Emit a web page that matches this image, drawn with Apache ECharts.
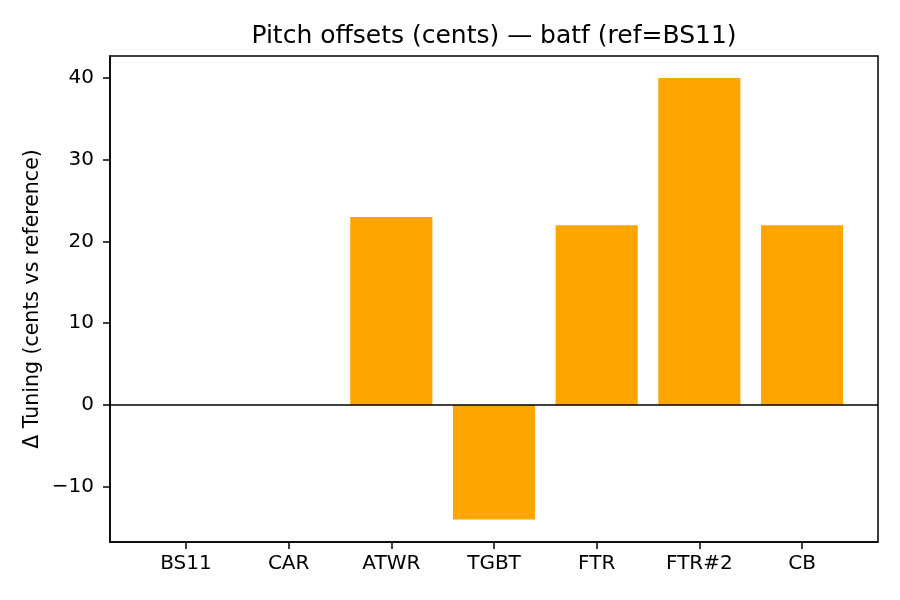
<!DOCTYPE html>
<html>
<head>
<meta charset="utf-8">
<script src="https://cdn.jsdelivr.net/npm/echarts@6/dist/echarts.min.js"></script>
<style>
  html, body { margin: 0; padding: 0; background: #fff; }
  #main { width: 900px; height: 600px; }
</style>
</head>
<body>
<div id="main"></div>
<script>
// data
const categories = ['BS11', 'CAR', 'ATWR', 'TGBT', 'FTR', 'FTR#2', 'CB'];
const offsets = [0, 0, 23, -14, 22, 40, 22];
const yTicks = [-10, 0, 10, 20, 30, 40];
const xTicks = [0, 1, 2, 3, 4, 5, 6];

const font = 'DejaVu Sans';
const dom = document.getElementById('main');
const myChart = echarts.init(dom);

myChart.setOption({
  animation: false,
  backgroundColor: '#fff',
  title: {
    text: 'Pitch offsets (cents) — batf (ref=BS11)',
    left: 489,
    top: 19,
    textAlign: 'center',
    textStyle: { fontFamily: font, fontSize: 25, fontWeight: 'normal', color: '#000' }
  },
  grid: {
    left: 110, right: 22, top: 56, bottom: 58,
    show: true, borderColor: '#000', borderWidth: 1.5, backgroundColor: 'transparent'
  },
  xAxis: {
    type: 'value',
    min: -0.74,
    max: 6.74,
    splitLine: { show: false },
    axisLine: { show: true, onZero: false, lineStyle: { color: '#000', width: 1.5 } },
    axisTick: { show: true, inside: false, customValues: xTicks, length: 7, lineStyle: { color: '#000', width: 1.5 } },
    axisLabel: {
      customValues: xTicks,
      formatter: v => categories[Math.round(v)],
      fontFamily: font, fontSize: 20, color: '#000', margin: 12
    }
  },
  yAxis: {
    type: 'value',
    min: -16.76,
    max: 42.69,
    name: 'Δ Tuning (cents vs reference)',
    nameLocation: 'middle',
    nameGap: 67,
    nameMoveOverlap: false,
    nameTextStyle: { fontFamily: font, fontSize: 20.5, color: '#000' },
    splitLine: { show: false },
    axisLine: { show: true, onZero: false, lineStyle: { color: '#000', width: 1.5 } },
    axisTick: { show: true, inside: false, customValues: yTicks, length: 7, lineStyle: { color: '#000', width: 1.5 } },
    axisLabel: {
      customValues: yTicks,
      formatter: v => String(v).replace('-', '\u2212'),
      fontFamily: font, fontSize: 20, color: '#000', margin: 16
    }
  },
  series: [{
    type: 'custom',
    data: offsets.map((v, i) => [i, v]),
    renderItem: (params, api) => {
      const i = api.value(0);
      const v = api.value(1);
      const p1 = api.coord([i - 0.4, Math.max(v, 0)]);
      const p2 = api.coord([i + 0.4, Math.min(v, 0)]);
      return {
        type: 'rect',
        shape: { x: p1[0], y: p1[1], width: p2[0] - p1[0], height: p2[1] - p1[1] },
        style: { fill: '#FFA500' }
      };
    },
    encode: { x: 0, y: 1 },
    z: 2
  }, {
    type: 'line',
    data: [],
    silent: true,
    z: 5,
    markLine: {
      symbol: 'none',
      label: { show: false },
      lineStyle: { color: '#000', width: 1.6, type: 'solid' },
      data: [{ yAxis: 0 }]
    }
  }]
});
</script>
</body>
</html>
